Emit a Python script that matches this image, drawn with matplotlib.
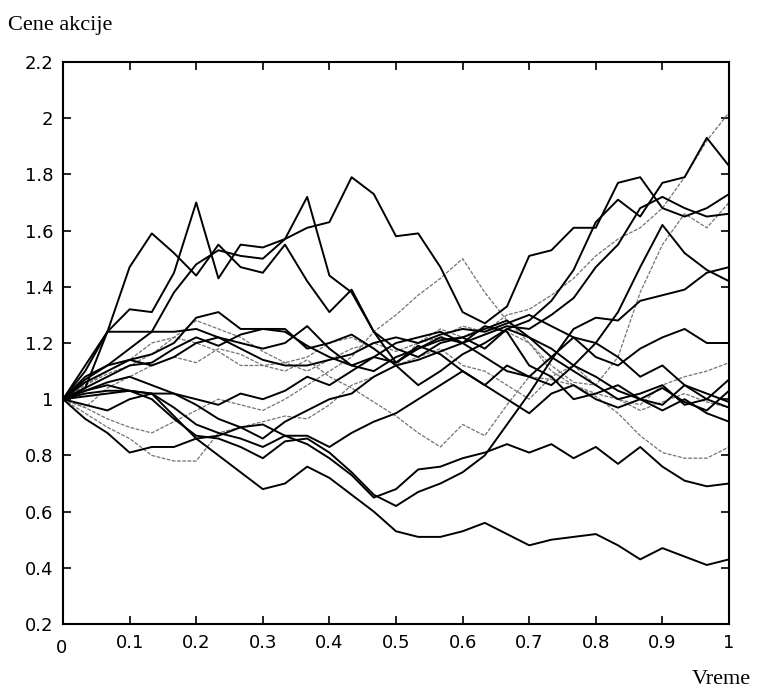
import numpy as np
import matplotlib.pyplot as plt
from matplotlib.transforms import ScaledTranslation

# vreme: 30 koraka od 0 do 1
vreme = np.linspace(0, 1, 31)

# putanje cena akcija (ocitane sa slike)
p_niska = [1.00, 1.01, 1.02, 1.03, 1.02, 0.94, 0.86, 0.80, 0.74, 0.68, 0.70,
           0.76, 0.72, 0.66, 0.60, 0.53, 0.51, 0.51, 0.53, 0.56, 0.52,
           0.48, 0.50, 0.51, 0.52, 0.48, 0.43, 0.47, 0.44, 0.41, 0.43]
p_070 = [1.00, 1.02, 1.03, 1.03, 1.02, 0.97, 0.91, 0.88, 0.86, 0.83, 0.87,
         0.84, 0.79, 0.73, 0.65, 0.68, 0.75, 0.76, 0.79, 0.81, 0.84,
         0.81, 0.84, 0.79, 0.83, 0.77, 0.83, 0.76, 0.71, 0.69, 0.70]
p_147 = [1.00, 1.03, 1.05, 1.03, 1.00, 0.93, 0.87, 0.86, 0.83, 0.79, 0.85,
         0.86, 0.81, 0.74, 0.66, 0.62, 0.67, 0.70, 0.74, 0.80, 0.91,
         1.02, 1.14, 1.25, 1.29, 1.28, 1.35, 1.37, 1.39, 1.45, 1.47]
p_083 = [1.00, 0.97, 1.04, 1.08, 1.12, 1.15, 1.13, 1.18, 1.16, 1.12, 1.10,
         1.14, 1.08, 1.04, 0.99, 0.94, 0.88, 0.83, 0.91, 0.87, 0.98,
         1.08, 1.07, 1.05, 1.01, 0.95, 0.87, 0.81, 0.79, 0.79, 0.83]
p_202 = [1.00, 1.05, 1.09, 1.12, 1.16, 1.22, 1.28, 1.25, 1.22, 1.17, 1.13,
         1.10, 1.14, 1.18, 1.20, 1.17, 1.20, 1.22, 1.26, 1.24, 1.30,
         1.32, 1.37, 1.43, 1.51, 1.57, 1.61, 1.68, 1.79, 1.92, 2.02]
p_183 = [1.00, 1.04, 1.08, 1.12, 1.13, 1.18, 1.22, 1.19, 1.23, 1.25, 1.24,
         1.19, 1.15, 1.12, 1.10, 1.15, 1.18, 1.21, 1.22, 1.18, 1.25,
         1.28, 1.35, 1.46, 1.63, 1.71, 1.65, 1.77, 1.79, 1.93, 1.83]
p_173 = [1.00, 1.08, 1.12, 1.18, 1.24, 1.38, 1.48, 1.53, 1.51, 1.50, 1.57,
         1.61, 1.63, 1.79, 1.73, 1.58, 1.59, 1.47, 1.31, 1.27, 1.33,
         1.51, 1.53, 1.61, 1.61, 1.77, 1.79, 1.68, 1.65, 1.68, 1.73]
p_159 = [1.00, 1.12, 1.24, 1.47, 1.59, 1.52, 1.44, 1.55, 1.47, 1.45, 1.55,
         1.42, 1.31, 1.39, 1.24, 1.18, 1.15, 1.20, 1.22, 1.25, 1.28,
         1.22, 1.15, 1.10, 1.05, 1.00, 1.02, 1.05, 0.98, 1.00, 0.97]
p_170 = [1.00, 1.10, 1.24, 1.32, 1.31, 1.45, 1.70, 1.43, 1.55, 1.54, 1.57,
         1.72, 1.44, 1.38, 1.24, 1.13, 1.19, 1.16, 1.10, 1.05, 1.12,
         1.08, 1.15, 1.22, 1.20, 1.15, 1.08, 1.12, 1.05, 1.00, 1.07]
p_166 = [1.00, 1.06, 1.10, 1.14, 1.16, 1.20, 1.29, 1.31, 1.25, 1.25, 1.25,
         1.18, 1.20, 1.23, 1.18, 1.12, 1.14, 1.17, 1.20, 1.23, 1.26,
         1.25, 1.30, 1.36, 1.47, 1.55, 1.68, 1.72, 1.68, 1.65, 1.66]
p_142 = [1.00, 1.04, 1.24, 1.24, 1.24, 1.24, 1.25, 1.22, 1.20, 1.18, 1.20,
         1.26, 1.18, 1.12, 1.15, 1.20, 1.22, 1.24, 1.20, 1.15, 1.10,
         1.08, 1.05, 1.12, 1.20, 1.31, 1.47, 1.62, 1.52, 1.46, 1.42]
p_170c = [1.00, 0.97, 0.93, 0.90, 0.88, 0.92, 0.96, 1.00, 0.98, 0.96, 1.00,
          1.05, 1.10, 1.15, 1.24, 1.30, 1.37, 1.43, 1.50, 1.38, 1.28,
          1.20, 1.12, 1.06, 1.05, 1.15, 1.38, 1.55, 1.66, 1.61, 1.70]
p_113 = [1.00, 1.05, 1.10, 1.14, 1.20, 1.22, 1.20, 1.17, 1.12, 1.12, 1.13,
         1.15, 1.20, 1.22, 1.18, 1.12, 1.20, 1.25, 1.22, 1.26, 1.24,
         1.20, 1.10, 1.05, 1.02, 1.00, 0.98, 1.05, 1.08, 1.10, 1.13]
p_103 = [1.00, 1.03, 1.06, 1.08, 1.05, 1.02, 1.00, 0.98, 1.02, 1.00, 1.03,
         1.08, 1.05, 1.10, 1.15, 1.13, 1.18, 1.22, 1.20, 1.26, 1.24,
         1.12, 1.08, 1.00, 1.02, 1.05, 1.00, 1.04, 0.99, 0.96, 1.03]
p_092 = [1.00, 0.98, 0.96, 1.00, 1.02, 1.02, 0.98, 0.93, 0.90, 0.91, 0.87,
         0.87, 0.83, 0.88, 0.92, 0.95, 1.00, 1.05, 1.10, 1.05, 1.00,
         0.95, 1.02, 1.05, 1.00, 0.97, 1.00, 0.96, 1.00, 0.95, 0.92]
p_099 = [1.00, 0.93, 0.88, 0.81, 0.83, 0.83, 0.86, 0.87, 0.90, 0.86, 0.92,
         0.96, 1.00, 1.02, 1.08, 1.12, 1.05, 1.10, 1.16, 1.20, 1.25,
         1.22, 1.18, 1.12, 1.08, 1.03, 1.00, 0.98, 1.05, 1.02, 0.99]
p_097 = [1.00, 0.95, 0.90, 0.86, 0.80, 0.78, 0.78, 0.88, 0.90, 0.92, 0.94,
         0.93, 0.98, 1.05, 1.08, 1.12, 1.15, 1.18, 1.12, 1.10, 1.05,
         1.00, 1.08, 1.12, 1.05, 1.00, 0.96, 0.99, 1.02, 0.99, 0.97]
p_120 = [1.00, 1.07, 1.12, 1.14, 1.12, 1.15, 1.20, 1.22, 1.18, 1.14, 1.12,
         1.12, 1.14, 1.16, 1.20, 1.22, 1.20, 1.23, 1.25, 1.24, 1.27,
         1.30, 1.26, 1.22, 1.15, 1.12, 1.18, 1.22, 1.25, 1.20, 1.20]

pune = [p_niska, p_070, p_147, p_183, p_173, p_159, p_170, p_166, p_142,
        p_103, p_092, p_099, p_120]
isprekidane = [p_083, p_202, p_170c, p_113, p_097]

x_oznake = ['0', '0.1', '0.2', '0.3', '0.4', '0.5', '0.6', '0.7', '0.8', '0.9', '1']
y_oznake = ['0.2', '0.4', '0.6', '0.8', '1', '1.2', '1.4', '1.6', '1.8', '2', '2.2']

fig = plt.figure(figsize=(7.61, 6.90), dpi=100)
ax = fig.add_axes([63 / 761, 1 - 624 / 690, 666 / 761, 562 / 690])

for p in isprekidane:
    ax.plot(vreme, p, color='0.45', lw=0.9, linestyle=(0, (3, 1.2)))
for p in pune:
    ax.plot(vreme, p, color='black', lw=1.4)

ax.set_xlim(0, 1)
ax.set_ylim(0.2, 2.2)
ax.set_xticks(np.linspace(0, 1, 11))
ax.set_xticklabels(x_oznake)
ax.set_yticks(np.linspace(0.2, 2.2, 11))
ax.set_yticklabels(y_oznake)
ax.tick_params(direction='in', length=6, width=1.2, top=True, right=True,
               labelsize=13)
ax.tick_params(axis='x', pad=7)
ax.tick_params(axis='y', pad=7)
for s in ax.spines.values():
    s.set_linewidth(1.5)

# "0" na x osi je malo spusten, kao na originalu
nula = ax.get_xticklabels()[0]
nula.set_transform(nula.get_transform() + ScaledTranslation(-1 / 72, -3.5 / 72, fig.dpi_scale_trans))

fig.text(8 / 761, 1 - 30 / 690, 'Cene akcije', family='Liberation Serif', fontsize=16)
fig.text(692 / 761, 1 - 684 / 690, 'Vreme', family='Liberation Serif', fontsize=16)

fig.savefig('out.png', dpi=100)
